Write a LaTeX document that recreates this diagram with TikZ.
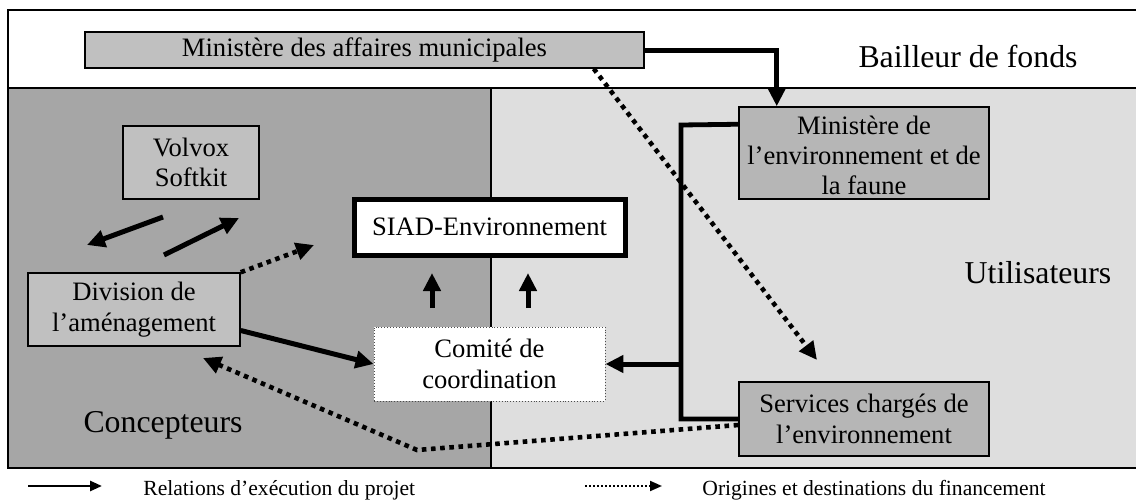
\documentclass[tikz,border=0pt]{standalone}
\usepackage{fontspec}
\setmainfont{Liberation Serif}
\usetikzlibrary{arrows.meta,calc}
\definecolor{darkreg}{HTML}{A6A6A6}
\definecolor{lightreg}{HTML}{DEDEDE}
\definecolor{boxfill}{HTML}{C0C0C0}
\definecolor{userfill}{HTML}{B6B6B6}
\begin{document}
\begin{tikzpicture}[x=0.5pt,y=-0.5pt,
  frame/.style={draw=black, line width=1.3pt},
  box/.style={draw=black, line width=0.75pt, fill=boxfill, inner sep=0pt, align=center,
    font=\fontsize{13.3}{15.4}\selectfont},
  userbox/.style={box, fill=userfill},
  siadbox/.style={draw=black, line width=2.5pt, fill=white, inner sep=0pt,
    font=\fontsize{13.3}{15.4}\selectfont},
  comitebox/.style={draw=black!70, densely dotted, line width=0.45pt, fill=white, inner sep=0pt,
    align=center, font=\fontsize{13.3}{15.2}\selectfont},
  boxtext/.style={inner sep=0pt, align=center, font=\fontsize{13.3}{15}\selectfont},
  bigtext/.style={inner sep=0pt, font=\fontsize{15.9}{18}\selectfont},
  legtext/.style={inner sep=0pt, anchor=west, font=\fontsize{10.8}{13}\selectfont},
  exec/.style={line width=2.5pt, -{Triangle[length=9pt,width=8.5pt]}},
  execline/.style={line width=2.4pt},
  fund/.style={line width=2.3pt, dash pattern=on 2.3pt off 2.3pt, -{Triangle[length=9pt,width=8.5pt]}},
  legexec/.style={line width=1.3pt, -{Triangle[length=6pt,width=5pt]}},
  legfund/.style={line width=1pt, dash pattern=on 1pt off 1pt, -{Triangle[length=6pt,width=5pt]}}
]
\useasboundingbox (0,0) rectangle (1136,503);
\fill[white] (0,0) rectangle (1136,503);
% regions
\fill[darkreg] (8,88) rectangle (491,468);
\fill[lightreg] (491,88) rectangle (1140,468);
\draw[frame] (8,10) rectangle (1140,468);
\draw[frame] (8,88) -- (1140,88);
\draw[frame] (491,88) -- (491,468);

% region labels
\node[bigtext] (bailleur) at (968,56) {Bailleur de fonds};
\node[bigtext] (concept) at (163,425) {Concepteurs};
\node[bigtext] (util) at (1038,273) {Utilisateurs};

% boxes
\node[box, minimum width=279.5pt, minimum height=18pt] (mam) at (364.5,50) {Ministère des affaires municipales};
\node[box, minimum width=68pt, minimum height=36.5pt] (volvox) at (191,162.5) {Volvox\\Softkit};
\node[siadbox, minimum width=135.5pt, minimum height=28pt] (siad) at (489.5,227) {SIAD-Environnement};
\node[box, minimum width=106pt, minimum height=36.5pt] (div) at (134,309.5) {Division de\\l’aménagement};
\node[comitebox, minimum width=115.5pt, minimum height=37pt] (comite) at (489.5,364) {Comité de\\coordination};
\node[userbox, minimum width=125pt, minimum height=46pt] (mef) at (864,153) {};
\node[boxtext] (meftext) at ([yshift=-1pt]mef.center) {Ministère de\\l’environnement et de\\la faune};
\node[userbox, minimum width=125pt, minimum height=37pt] (serv) at (864,419) {Services chargés de\\l’environnement};

% coordinates for free ends
\coordinate (va1) at (163,217);
\coordinate (va2) at (87,245);
\coordinate (vb1) at (164,255);
\coordinate (vb2) at (239,218);
\coordinate (dsiad) at (314,245);
\coordinate (up1a) at (432,308);
\coordinate (up1b) at (432,273);
\coordinate (up2a) at (528,308);
\coordinate (up2b) at (528,273);
\coordinate (brt) at (681,125);
\coordinate (brb) at (681,419);
\coordinate (brm) at (681,364);
\coordinate (fundend) at (817,360);
\coordinate (bend) at (417,450);
\coordinate (divend) at (203,358);

% execution relations
\draw[exec] (mam.east) -| ($(mef.north west)+(38.5,0)$);
\draw[execline] ($(mef.north west)+(0,18)$) -- (brt) -- (brb) -- (serv.west);
\draw[exec] (brm) -- (comite.east);
\draw[exec] (va1) -- (va2);
\draw[exec] (vb1) -- (vb2);
\draw[exec] ($(div.east)+(0,21)$) -- (comite.west);
\draw[exec] (up1a) -- (up1b);
\draw[exec] (up2a) -- (up2b);

% funding
\draw[fund] ($(mam.south east)+(-51,0)$) -- (fundend);
\draw[fund] (div.north east) -- (dsiad);
\draw[fund] ($(serv.west)+(0,6)$) -- (bend) -- (divend);

% legend
\coordinate (l1a) at (28,486);
\coordinate (l1b) at (102,486);
\coordinate (l2a) at (585,486);
\coordinate (l2b) at (662,486);
\draw[legexec] (l1a) -- (l1b);
\draw[legfund] (l2a) -- (l2b);
\node[legtext] (leg1) at (143,490) {Relations d’exécution du projet};
\node[legtext] (leg2) at (702,490) {Origines et destinations du financement};
\end{tikzpicture}
\end{document}
